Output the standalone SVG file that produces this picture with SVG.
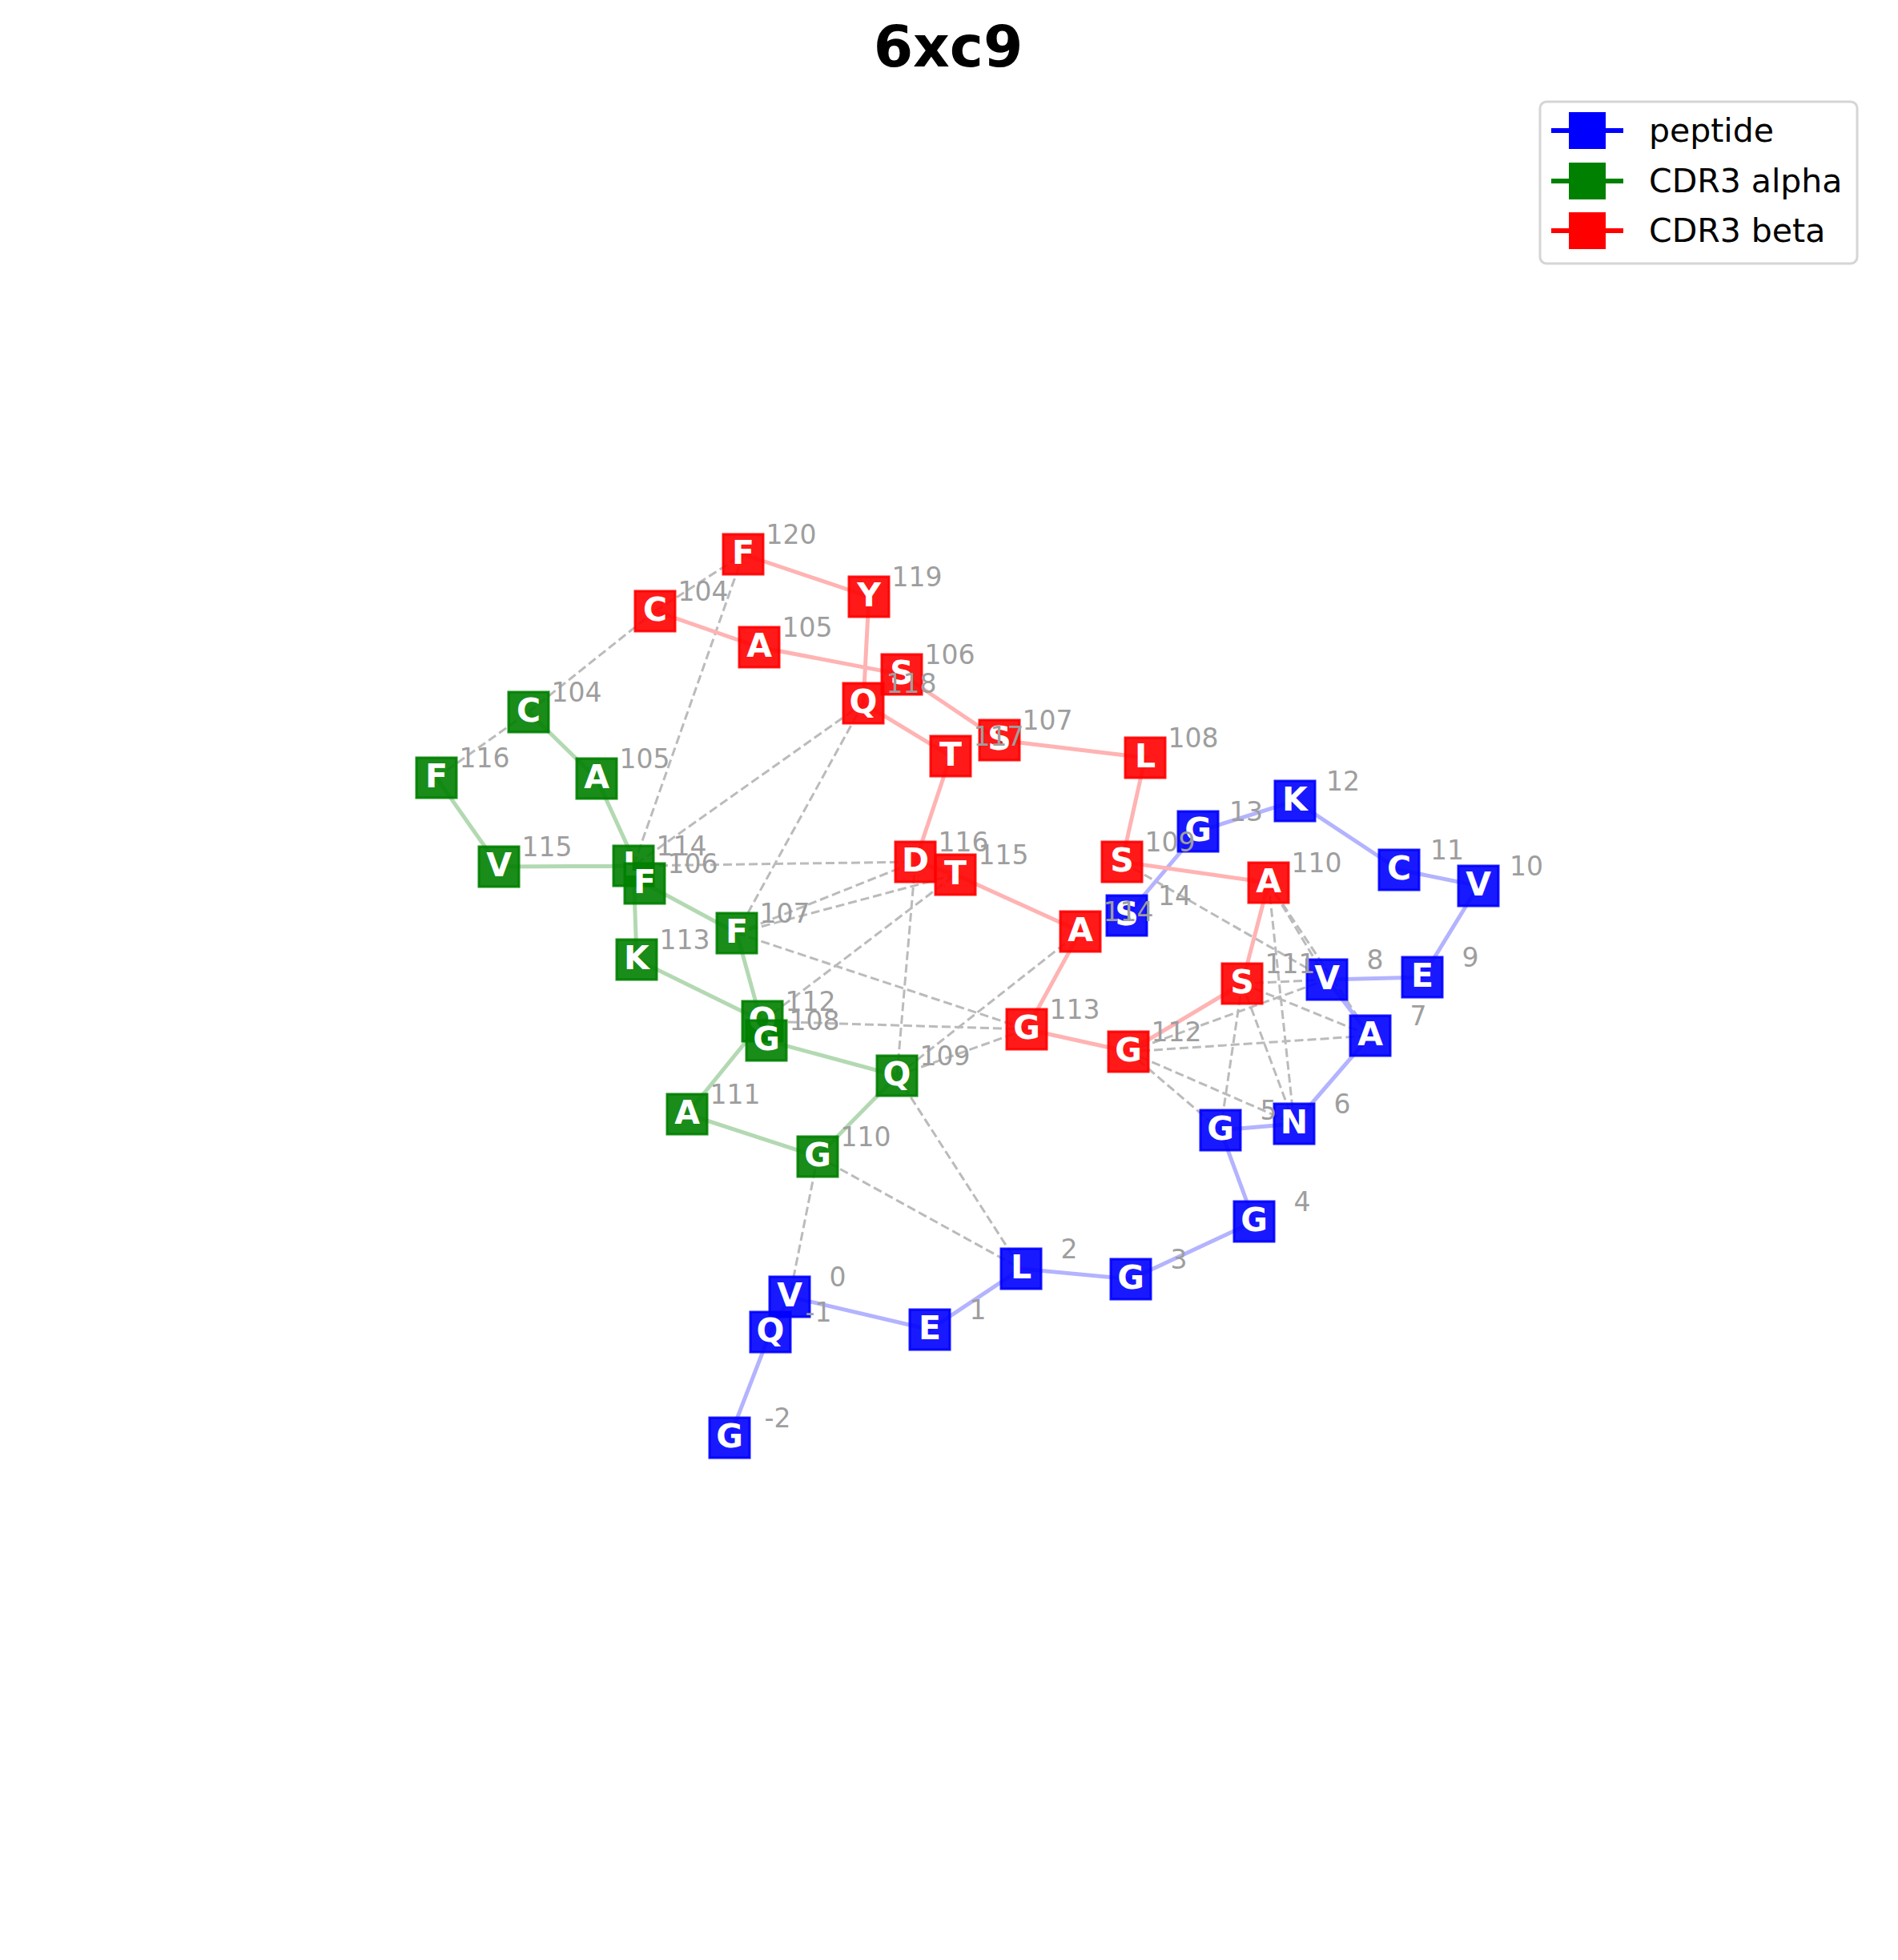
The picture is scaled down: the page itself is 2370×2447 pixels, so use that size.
<svg xmlns="http://www.w3.org/2000/svg" width="2370" height="2447" viewBox="0 0 2370 2447">
<style>
.bg{fill:#ffffff}
.title{font-family:"DejaVu Sans",sans-serif;font-weight:bold;font-size:71px;fill:#000000;text-anchor:middle}
.sb{stroke:#b3b3ff;stroke-width:5;fill:none;stroke-linecap:round}
.sg{stroke:#b3d9b3;stroke-width:5;fill:none;stroke-linecap:round}
.sr{stroke:#ffb3b3;stroke-width:5;fill:none;stroke-linecap:round}
.dash{stroke:#bbbbbb;stroke-width:3;fill:none;stroke-dasharray:11 5}
.nb rect{fill:#0000ff;fill-opacity:0.9;stroke:#0000ff;stroke-width:3;stroke-opacity:0.9}
.ng rect{fill:#008000;fill-opacity:0.9;stroke:#008000;stroke-width:3;stroke-opacity:0.9}
.nr rect{fill:#ff0000;fill-opacity:0.9;stroke:#ff0000;stroke-width:3;stroke-opacity:0.9}
.let{font-family:"DejaVu Sans",sans-serif;font-weight:bold;font-size:41px;fill:#ffffff;text-anchor:middle}
.lab{font-family:"DejaVu Sans",sans-serif;font-size:33px;fill:#9e9e9e;text-anchor:middle}
.leg{font-family:"DejaVu Sans",sans-serif;font-size:41px;fill:#000000}
</style>
<rect class="bg" x="0" y="0" width="2370" height="2447"/>
<text class="title" x="1184" y="83">6xc9</text>

<g id="connectors">
<g id="contacts">
<line class="dash" x1="545" y1="971" x2="660" y2="889"/>
<line class="dash" x1="660" y1="889" x2="818" y2="763"/>
<line class="dash" x1="818" y1="763" x2="928" y2="692"/>
<line class="dash" x1="928" y1="692" x2="791" y2="1081"/>
<line class="dash" x1="1078" y1="878" x2="791" y2="1081"/>
<line class="dash" x1="1078" y1="878" x2="920" y2="1165"/>
<line class="dash" x1="791" y1="1081" x2="1143" y2="1076"/>
<line class="dash" x1="920" y1="1165" x2="1143" y2="1076"/>
<line class="dash" x1="920" y1="1165" x2="1193" y2="1092"/>
<line class="dash" x1="920" y1="1165" x2="1282" y2="1285"/>
<line class="dash" x1="952" y1="1275" x2="1193" y2="1092"/>
<line class="dash" x1="952" y1="1275" x2="1282" y2="1285"/>
<line class="dash" x1="1143" y1="1076" x2="1120" y2="1343"/>
<line class="dash" x1="1120" y1="1343" x2="1349" y2="1163"/>
<line class="dash" x1="1120" y1="1343" x2="1282" y2="1285"/>
<line class="dash" x1="1120" y1="1343" x2="1275" y2="1584"/>
<line class="dash" x1="1021" y1="1444" x2="1275" y2="1584"/>
<line class="dash" x1="1021" y1="1444" x2="986" y2="1619"/>
<line class="dash" x1="1409" y1="1313" x2="1711" y2="1293"/>
<line class="dash" x1="1409" y1="1313" x2="1657" y2="1223"/>
<line class="dash" x1="1409" y1="1313" x2="1616" y2="1403"/>
<line class="dash" x1="1409" y1="1313" x2="1524" y2="1411"/>
<line class="dash" x1="1551" y1="1228" x2="1657" y2="1223"/>
<line class="dash" x1="1551" y1="1228" x2="1711" y2="1293"/>
<line class="dash" x1="1551" y1="1228" x2="1524" y2="1411"/>
<line class="dash" x1="1551" y1="1228" x2="1616" y2="1403"/>
<line class="dash" x1="1584" y1="1102" x2="1616" y2="1403"/>
<line class="dash" x1="1584" y1="1102" x2="1657" y2="1223"/>
<line class="dash" x1="1584" y1="1102" x2="1711" y2="1293"/>
<line class="dash" x1="1401" y1="1076" x2="1657" y2="1223"/>
</g>
<g id="peptide-chain">
<polyline class="sb" points="911,1795 962,1663 986,1619 1161,1660 1275,1584 1412,1597 1566,1525 1524,1411 1616,1403 1711,1293 1657,1223 1776,1220 1846,1106 1747,1086 1617,1000 1496,1038 1407,1143"/>
</g>
<g id="alpha-chain">
<polyline class="sg" points="660,889 745,972 805,1103 920,1165 957,1299 1120,1343 1021,1444 858,1391 952,1275 795,1198 791,1081 623,1082 545,971"/>
</g>
<g id="beta-chain">
<polyline class="sr" points="818,763 948,808 1126,842 1248,924 1430,946 1401,1076 1584,1102 1551,1228 1409,1313 1282,1285 1349,1163 1193,1092 1143,1076 1187,944 1078,878 1085,745 928,692"/>
</g>
</g>

<g id="nodes">
<g id="pep-14" class="nb" transform="translate(1407,1143)"><rect x="-25" y="-25" width="50" height="50"/><text class="let" x="0" y="12">S</text></g>
<g id="pep-13" class="nb" transform="translate(1496,1038)"><rect x="-25" y="-25" width="50" height="50"/><text class="let" x="0" y="12">G</text></g>
<g id="pep-12" class="nb" transform="translate(1617,1000)"><rect x="-25" y="-25" width="50" height="50"/><text class="let" x="0" y="12">K</text></g>
<g id="pep-11" class="nb" transform="translate(1747,1086)"><rect x="-25" y="-25" width="50" height="50"/><text class="let" x="0" y="12">C</text></g>
<g id="pep-10" class="nb" transform="translate(1846,1106)"><rect x="-25" y="-25" width="50" height="50"/><text class="let" x="0" y="12">V</text></g>
<g id="pep-9" class="nb" transform="translate(1776,1220)"><rect x="-25" y="-25" width="50" height="50"/><text class="let" x="0" y="12">E</text></g>
<g id="pep-8" class="nb" transform="translate(1657,1223)"><rect x="-25" y="-25" width="50" height="50"/><text class="let" x="0" y="12">V</text></g>
<g id="pep-7" class="nb" transform="translate(1711,1293)"><rect x="-25" y="-25" width="50" height="50"/><text class="let" x="0" y="12">A</text></g>
<g id="pep-6" class="nb" transform="translate(1616,1403)"><rect x="-25" y="-25" width="50" height="50"/><text class="let" x="0" y="12">N</text></g>
<g id="pep-5" class="nb" transform="translate(1524,1411)"><rect x="-25" y="-25" width="50" height="50"/><text class="let" x="0" y="12">G</text></g>
<g id="pep-4" class="nb" transform="translate(1566,1525)"><rect x="-25" y="-25" width="50" height="50"/><text class="let" x="0" y="12">G</text></g>
<g id="pep-3" class="nb" transform="translate(1412,1597)"><rect x="-25" y="-25" width="50" height="50"/><text class="let" x="0" y="12">G</text></g>
<g id="pep-2" class="nb" transform="translate(1275,1584)"><rect x="-25" y="-25" width="50" height="50"/><text class="let" x="0" y="12">L</text></g>
<g id="pep-1" class="nb" transform="translate(1161,1660)"><rect x="-25" y="-25" width="50" height="50"/><text class="let" x="0" y="12">E</text></g>
<g id="pep-0" class="nb" transform="translate(986,1619)"><rect x="-25" y="-25" width="50" height="50"/><text class="let" x="0" y="12">V</text></g>
<g id="pep-m1" class="nb" transform="translate(962,1663)"><rect x="-25" y="-25" width="50" height="50"/><text class="let" x="0" y="12">Q</text></g>
<g id="pep-m2" class="nb" transform="translate(911,1795)"><rect x="-25" y="-25" width="50" height="50"/><text class="let" x="0" y="12">G</text></g>

<g id="alpha-116" class="ng" transform="translate(545,971)"><rect x="-25" y="-25" width="50" height="50"/><text class="let" x="0" y="12">F</text></g>
<g id="alpha-115" class="ng" transform="translate(623,1082)"><rect x="-25" y="-25" width="50" height="50"/><text class="let" x="0" y="12">V</text></g>
<g id="alpha-114" class="ng" transform="translate(791,1081)"><rect x="-25" y="-25" width="50" height="50"/><text class="let" x="0" y="12">L</text></g>
<g id="alpha-113" class="ng" transform="translate(795,1198)"><rect x="-25" y="-25" width="50" height="50"/><text class="let" x="0" y="12">K</text></g>
<g id="alpha-112" class="ng" transform="translate(952,1275)"><rect x="-25" y="-25" width="50" height="50"/><text class="let" x="0" y="12">Q</text></g>
<g id="alpha-111" class="ng" transform="translate(858,1391)"><rect x="-25" y="-25" width="50" height="50"/><text class="let" x="0" y="12">A</text></g>
<g id="alpha-110" class="ng" transform="translate(1021,1444)"><rect x="-25" y="-25" width="50" height="50"/><text class="let" x="0" y="12">G</text></g>
<g id="alpha-109" class="ng" transform="translate(1120,1343)"><rect x="-25" y="-25" width="50" height="50"/><text class="let" x="0" y="12">Q</text></g>
<g id="alpha-108" class="ng" transform="translate(957,1299)"><rect x="-25" y="-25" width="50" height="50"/><text class="let" x="0" y="12">G</text></g>
<g id="alpha-107" class="ng" transform="translate(920,1165)"><rect x="-25" y="-25" width="50" height="50"/><text class="let" x="0" y="12">F</text></g>
<g id="alpha-106" class="ng" transform="translate(805,1103)"><rect x="-25" y="-25" width="50" height="50"/><text class="let" x="0" y="12">F</text></g>
<g id="alpha-105" class="ng" transform="translate(745,972)"><rect x="-25" y="-25" width="50" height="50"/><text class="let" x="0" y="12">A</text></g>
<g id="alpha-104" class="ng" transform="translate(660,889)"><rect x="-25" y="-25" width="50" height="50"/><text class="let" x="0" y="12">C</text></g>

<g id="beta-120" class="nr" transform="translate(928,692)"><rect x="-25" y="-25" width="50" height="50"/><text class="let" x="0" y="12">F</text></g>
<g id="beta-119" class="nr" transform="translate(1085,745)"><rect x="-25" y="-25" width="50" height="50"/><text class="let" x="0" y="12">Y</text></g>
<g id="beta-118" class="nr" transform="translate(1078,878)"><rect x="-25" y="-25" width="50" height="50"/><text class="let" x="0" y="12">Q</text></g>
<g id="beta-117" class="nr" transform="translate(1187,944)"><rect x="-25" y="-25" width="50" height="50"/><text class="let" x="0" y="12">T</text></g>
<g id="beta-116" class="nr" transform="translate(1143,1076)"><rect x="-25" y="-25" width="50" height="50"/><text class="let" x="0" y="12">D</text></g>
<g id="beta-115" class="nr" transform="translate(1193,1092)"><rect x="-25" y="-25" width="50" height="50"/><text class="let" x="0" y="12">T</text></g>
<g id="beta-114" class="nr" transform="translate(1349,1163)"><rect x="-25" y="-25" width="50" height="50"/><text class="let" x="0" y="12">A</text></g>
<g id="beta-113" class="nr" transform="translate(1282,1285)"><rect x="-25" y="-25" width="50" height="50"/><text class="let" x="0" y="12">G</text></g>
<g id="beta-112" class="nr" transform="translate(1409,1313)"><rect x="-25" y="-25" width="50" height="50"/><text class="let" x="0" y="12">G</text></g>
<g id="beta-111" class="nr" transform="translate(1551,1228)"><rect x="-25" y="-25" width="50" height="50"/><text class="let" x="0" y="12">S</text></g>
<g id="beta-110" class="nr" transform="translate(1584,1102)"><rect x="-25" y="-25" width="50" height="50"/><text class="let" x="0" y="12">A</text></g>
<g id="beta-109" class="nr" transform="translate(1401,1076)"><rect x="-25" y="-25" width="50" height="50"/><text class="let" x="0" y="12">S</text></g>
<g id="beta-108" class="nr" transform="translate(1430,946)"><rect x="-25" y="-25" width="50" height="50"/><text class="let" x="0" y="12">L</text></g>
<g id="beta-107" class="nr" transform="translate(1248,924)"><rect x="-25" y="-25" width="50" height="50"/><text class="let" x="0" y="12">S</text></g>
<g id="beta-106" class="nr" transform="translate(1126,842)"><rect x="-25" y="-25" width="50" height="50"/><text class="let" x="0" y="12">S</text></g>
<g id="beta-105" class="nr" transform="translate(948,808)"><rect x="-25" y="-25" width="50" height="50"/><text class="let" x="0" y="12">A</text></g>
<g id="beta-104" class="nr" transform="translate(818,763)"><rect x="-25" y="-25" width="50" height="50"/><text class="let" x="0" y="12">C</text></g>
</g>

<g id="labels">
<text class="lab" x="971" y="1782">-2</text>
<text class="lab" x="1022" y="1650">-1</text>
<text class="lab" x="1046" y="1606">0</text>
<text class="lab" x="1221" y="1647">1</text>
<text class="lab" x="1335" y="1571">2</text>
<text class="lab" x="1472" y="1584">3</text>
<text class="lab" x="1626" y="1512">4</text>
<text class="lab" x="1584" y="1398">5</text>
<text class="lab" x="1676" y="1390">6</text>
<text class="lab" x="1771" y="1280">7</text>
<text class="lab" x="1717" y="1210">8</text>
<text class="lab" x="1836" y="1207">9</text>
<text class="lab" x="1906" y="1093">10</text>
<text class="lab" x="1807" y="1073">11</text>
<text class="lab" x="1677" y="987">12</text>
<text class="lab" x="1556" y="1025">13</text>
<text class="lab" x="1467" y="1130">14</text>
<text class="lab" x="720" y="876">104</text>
<text class="lab" x="805" y="959">105</text>
<text class="lab" x="865" y="1090">106</text>
<text class="lab" x="980" y="1152">107</text>
<text class="lab" x="1017" y="1286">108</text>
<text class="lab" x="1180" y="1330">109</text>
<text class="lab" x="1081" y="1431">110</text>
<text class="lab" x="918" y="1378">111</text>
<text class="lab" x="1012" y="1262">112</text>
<text class="lab" x="855" y="1185">113</text>
<text class="lab" x="851" y="1068">114</text>
<text class="lab" x="683" y="1069">115</text>
<text class="lab" x="605" y="958">116</text>
<text class="lab" x="878" y="750">104</text>
<text class="lab" x="1008" y="795">105</text>
<text class="lab" x="1186" y="829">106</text>
<text class="lab" x="1308" y="911">107</text>
<text class="lab" x="1490" y="933">108</text>
<text class="lab" x="1461" y="1063">109</text>
<text class="lab" x="1644" y="1089">110</text>
<text class="lab" x="1611" y="1215">111</text>
<text class="lab" x="1469" y="1300">112</text>
<text class="lab" x="1342" y="1272">113</text>
<text class="lab" x="1409" y="1150">114</text>
<text class="lab" x="1253" y="1079">115</text>
<text class="lab" x="1203" y="1063">116</text>
<text class="lab" x="1247" y="931">117</text>
<text class="lab" x="1138" y="865">118</text>
<text class="lab" x="1145" y="732">119</text>
<text class="lab" x="988" y="679">120</text>
</g>

<g id="legend">
<rect x="1923" y="127" width="396" height="202" rx="8" ry="8" fill="#ffffff" fill-opacity="0.8" stroke="#d5d5d5" stroke-width="3"/>
<line x1="1937" y1="163" x2="2027" y2="163" stroke="#0000ff" stroke-width="6"/>
<rect x="1959" y="140" width="46" height="46" fill="#0000ff"/>
<text class="leg" x="2059" y="177">peptide</text>
<line x1="1937" y1="226" x2="2027" y2="226" stroke="#008000" stroke-width="6"/>
<rect x="1959" y="203" width="46" height="46" fill="#008000"/>
<text class="leg" x="2059" y="240">CDR3 alpha</text>
<line x1="1937" y1="288" x2="2027" y2="288" stroke="#ff0000" stroke-width="6"/>
<rect x="1959" y="265" width="46" height="46" fill="#ff0000"/>
<text class="leg" x="2059" y="302">CDR3 beta</text>
</g>
</svg>
